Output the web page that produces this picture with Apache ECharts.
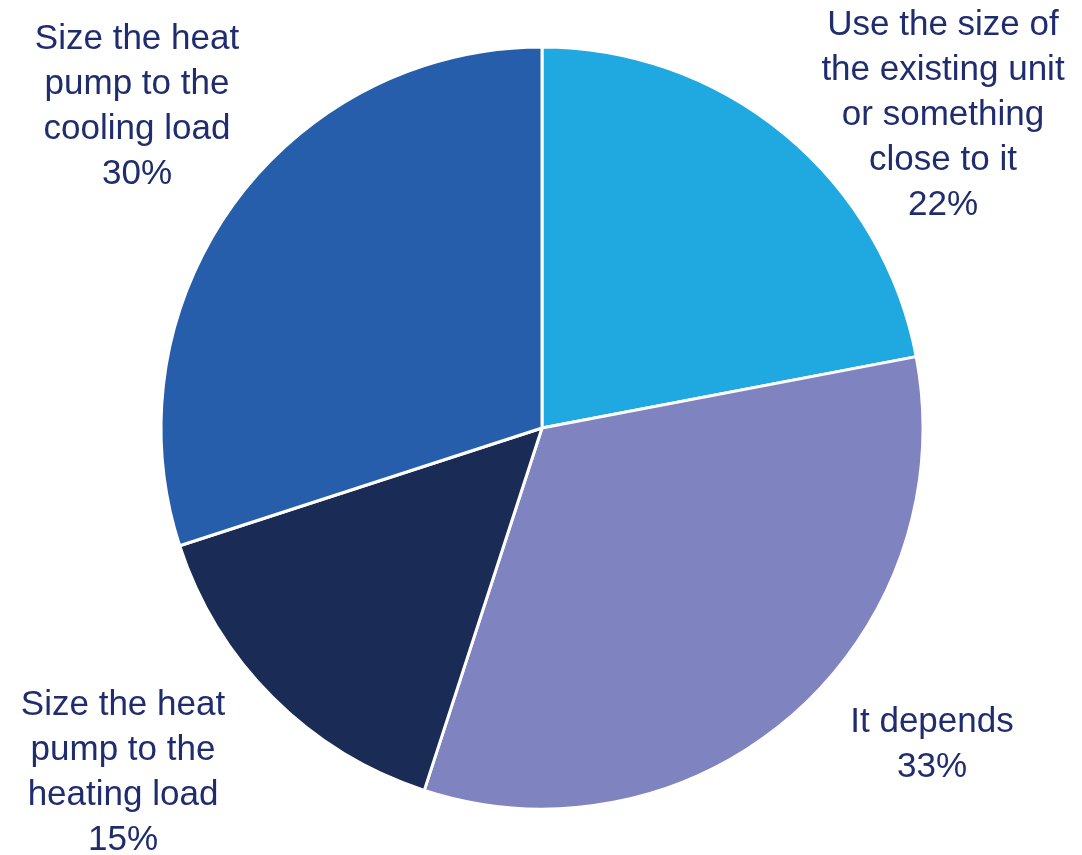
<!DOCTYPE html>
<html>
<head>
<meta charset="utf-8">
<script src="https://cdn.jsdelivr.net/npm/echarts@6/dist/echarts.min.js"></script>
<style>
  html, body { margin: 0; padding: 0; background: #ffffff; }
  #chart { width: 1082px; height: 855px; }
</style>
</head>
<body>
<div id="chart"></div>
<script>
// Survey answers: how to size the heat pump
const categories = [
  'Use the size of\nthe existing unit\nor something\nclose to it',
  'It depends',
  'Size the heat\npump to the\nheating load',
  'Size the heat\npump to the\ncooling load'
];
const shares = [22, 33, 15, 30];
const sliceColors = ['#20A9E0', '#7F83BF', '#1A2B55', '#265EAB'];

// Label block centres, placed beside each slice
const labelSpots = [
  [943, 115],
  [932, 745],
  [123, 773],
  [137, 107]
];

const chart = echarts.init(document.getElementById('chart'), null, { renderer: 'canvas' });

chart.setOption({
  animation: false,
  backgroundColor: '#ffffff',
  series: [{
    type: 'pie',
    center: [542, 428],
    radius: [0, 381],
    startAngle: 90,
    clockwise: true,
    avoidLabelOverlap: false,
    itemStyle: { borderColor: '#ffffff', borderWidth: 3 },
    label: {
      show: true,
      position: 'outside',
      formatter: p => p.name + '\n' + p.value + '%',
      color: '#1F2D6E',
      fontFamily: '"Liberation Sans", Arial, sans-serif',
      fontSize: 35,
      lineHeight: 45,
      align: 'center'
    },
    labelLine: { show: false },
    labelLayout: params => ({
      x: labelSpots[params.dataIndex][0],
      y: labelSpots[params.dataIndex][1],
      align: 'center',
      verticalAlign: 'middle'
    }),
    data: categories.map((name, i) => ({
      name: name,
      value: shares[i],
      itemStyle: { color: sliceColors[i] }
    }))
  }]
});
</script>
</body>
</html>
